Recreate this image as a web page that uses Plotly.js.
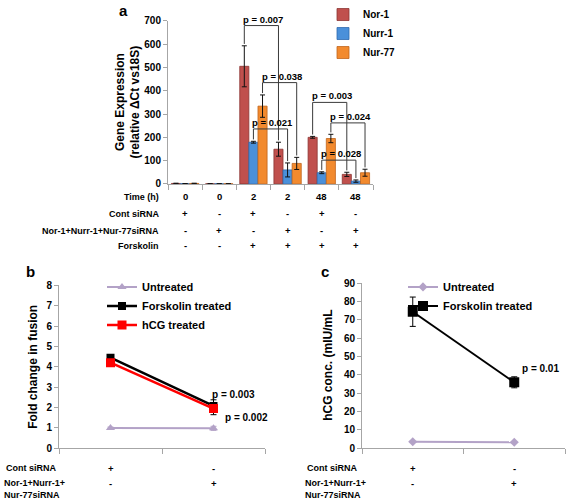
<!DOCTYPE html>
<html>
<head>
<meta charset="utf-8">
<script src="https://cdn.plot.ly/plotly-3.0.1.min.js"></script>
<style>html,body{margin:0;padding:0;background:#fff;}#chart{width:567px;height:501px;}</style>
</head>
<body>
<div id="chart"></div>
<script>
// ---------- Panel a data ----------
const conditions = ['0 h cont', '0 h siRNA', '2 h cont', '2 h siRNA', '48 h cont', '48 h siRNA'];
const timeLabels = ['0', '0', '2', '2', '48', '48'];
const contSiRNA = ['+', '-', '+', '-', '+', '-'];
const nurSiRNA = ['-', '+', '-', '+', '-', '+'];
const forskolinRow = ['-', '-', '+', '+', '+', '+'];
const rowLabelsA = ['Time (h)', 'Cont siRNA', 'Nor-1+Nurr-1+Nur-77siRNA', 'Forskolin'];

const seriesNames = ['Nor-1', 'Nurr-1', 'Nur-77'];
const nor1 = [2, 0.5, 505, 149, 200, 41];
const nor1Err = [1, 0.3, 88, 30, 4, 9];
const nurr1 = [1, 0.5, 179, 60, 48, 12];
const nurr1Err = [0.5, 0.3, 4, 30, 4, 5];
const nur77 = [2, 0.5, 334, 88, 195, 48];
const nur77Err = [1, 0.3, 48, 26, 18, 15];

// significance comparisons: [series index, group A, group B]
const pLabels = ['p = 0.007', 'p = 0.038', 'p = 0.021', 'p = 0.003', 'p = 0.024', 'p = 0.028'];
const pPairs = [[0, 2, 3], [2, 2, 3], [1, 2, 3], [0, 4, 5], [2, 4, 5], [1, 4, 5]];

// ---------- Panel b data ----------
const treatConds = ['Cont siRNA', 'Nor-1+Nurr-1+Nur-77siRNA'];
const contRow = ['+', '-'];
const knockRow = ['-', '+'];
const fusionUntreated = [1.0, 0.98];
const fusionUntreatedErr = [0.04, 0.1];
const fusionForskolin = [4.45, 2.08];
const fusionForskolinErr = [0.05, 0.3];
const fusionHCG = [4.2, 1.95];
const fusionHCGErr = [0.05, 0.3];
const fusionP = ['p = 0.003', 'p = 0.002'];

// ---------- Panel c data ----------
const hcgUntreated = [3.6, 3.3];
const hcgForskolin = [74.5, 36];
const hcgForskolinErr = [8, 3];
const hcgP = 'p = 0.01';

// axis titles
const yTitleA = 'Gene Expression<br>(relative ΔCt vs18S)';
const yTitleB = 'Fold change in fusion';
const yTitleC = 'hCG conc. (mIU/mL';

// ---------- styling / layout helpers ----------
const W = 567, H = 501;
const FONT = 'Arial, "Liberation Sans", sans-serif';
const fx = p => p / W;
const fy = p => 1 - p / H;
const barColors = ['#C0504D', '#4A90DA', '#F28A2E'];
const barLines = ['#8C3532', '#2F6AAE', '#C0651C'];
const bargap = 0.2;
const bracketTops = [680, 435, 236, 350, 262, 102];
const legPad = 8;

const seriesVals = [nor1, nurr1, nur77];
const seriesErrs = [nor1Err, nurr1Err, nur77Err];

const traces = [];
seriesNames.forEach((n, i) => {
  traces.push({
    type: 'bar', name: n, x: conditions, y: seriesVals[i],
    marker: {color: barColors[i], line: {color: barLines[i], width: 0.8}},
    error_y: {type: 'data', array: seriesErrs[i], color: '#111', thickness: 1, width: 2.5},
    xaxis: 'x', yaxis: 'y', legend: 'legend'
  });
});

// panel b
traces.push({
  type: 'scatter', mode: 'lines+markers', name: 'Untreated', x: treatConds, y: fusionUntreated,
  line: {color: '#B3A2C7', width: 2}, marker: {symbol: 'triangle-up', size: 8, color: '#B3A2C7'},
  error_y: {type: 'data', array: fusionUntreatedErr, color: '#B3A2C7', thickness: 1, width: 3},
  xaxis: 'x2', yaxis: 'y2', legend: 'legend2'
});
traces.push({
  type: 'scatter', mode: 'lines+markers', name: 'Forskolin treated', x: treatConds, y: fusionForskolin,
  line: {color: '#000', width: 2.5}, marker: {symbol: 'square', size: 8, color: '#000'},
  error_y: {type: 'data', array: fusionForskolinErr, color: '#000', thickness: 1, width: 3},
  xaxis: 'x2', yaxis: 'y2', legend: 'legend2'
});
traces.push({
  type: 'scatter', mode: 'lines+markers', name: 'hCG treated', x: treatConds, y: fusionHCG,
  line: {color: '#FF0000', width: 2.5}, marker: {symbol: 'square', size: 9, color: '#FF0000'},
  error_y: {type: 'data', array: fusionHCGErr, color: '#000', thickness: 1, width: 3},
  xaxis: 'x2', yaxis: 'y2', legend: 'legend2'
});

// panel c
traces.push({
  type: 'scatter', mode: 'lines+markers', name: 'Untreated', x: treatConds, y: hcgUntreated,
  line: {color: '#B3A2C7', width: 2}, marker: {symbol: 'diamond', size: 7, color: '#B3A2C7'},
  xaxis: 'x3', yaxis: 'y3', legend: 'legend3'
});
traces.push({
  type: 'scatter', mode: 'lines+markers', name: 'Forskolin treated', x: treatConds, y: hcgForskolin,
  line: {color: '#000', width: 2}, marker: {symbol: 'square', size: 10, color: '#000'},
  error_y: {type: 'data', array: hcgForskolinErr, color: '#000', thickness: 1, width: 3},
  xaxis: 'x3', yaxis: 'y3', legend: 'legend3'
});

// brackets (panel a)
const barW = (1 - bargap) / seriesNames.length;
const shapes = [];
const annotations = [];
pPairs.forEach((pp, k) => {
  const [s, a, b] = pp;
  const xa = a + (s - 1) * barW, xb = b + (s - 1) * barW;
  const ya = seriesVals[s][a] + seriesErrs[s][a] + legPad;
  const yb = seriesVals[s][b] + seriesErrs[s][b] + legPad;
  const top = bracketTops[k];
  const ln = {type: 'line', xref: 'x', yref: 'y', line: {color: '#3a3a3a', width: 1}};
  shapes.push(Object.assign({x0: xa, x1: xa, y0: ya, y1: top}, ln));
  shapes.push(Object.assign({x0: xa, x1: xb, y0: top, y1: top}, ln));
  shapes.push(Object.assign({x0: xb, x1: xb, y0: top, y1: yb}, ln));
  annotations.push({xref: 'x', yref: 'y', x: xa, y: top, text: '<b>' + pLabels[k] + '</b>',
    showarrow: false, xanchor: 'left', yanchor: 'bottom', xshift: -3, yshift: -1,
    font: {family: FONT, size: 9.5, color: '#000'}});
});

const tf = {family: FONT, size: 9.5, color: '#000'};
function ann(o) { return Object.assign({showarrow: false, font: tf}, o); }

// table rows panel a
const rowsA = [timeLabels, contSiRNA, nurSiRNA, forskolinRow];
const rowY = [195, 212, 229, 244];
rowsA.forEach((row, r) => {
  annotations.push(ann({xref: 'paper', yref: 'paper', x: fx(161), y: fy(rowY[r]), xanchor: 'right', yanchor: 'middle', text: '<b>' + rowLabelsA[r] + '</b>', font: {family: FONT, size: 9, color: '#000'}}));
  row.forEach((v, i) => {
    annotations.push(ann({xref: 'x', yref: 'paper', x: i, y: fy(rowY[r]), xanchor: 'center', yanchor: 'middle', text: '<b>' + v + '</b>'}));
  });
});

// table rows panels b and c
[['x2', 4], ['x3', 305]].forEach(([xr, left]) => {
  annotations.push(ann({xref: 'paper', yref: 'paper', x: fx(left), y: fy(468), xanchor: 'left', yanchor: 'middle', text: '<b>Cont siRNA</b>', font: {family: FONT, size: 9, color: '#000'}}));
  annotations.push(ann({xref: 'paper', yref: 'paper', x: fx(left - 2), y: fy(489), xanchor: 'left', yanchor: 'middle', align: 'left', text: '<b>Nor-1+Nurr-1+<br>Nur-77siRNA</b>', font: {family: FONT, size: 9, color: '#000'}}));
  contRow.forEach((v, i) => annotations.push(ann({xref: xr, yref: 'paper', x: i, y: fy(468), xanchor: 'center', yanchor: 'middle', text: '<b>' + v + '</b>'})));
  knockRow.forEach((v, i) => annotations.push(ann({xref: xr, yref: 'paper', x: i, y: fy(483), xanchor: 'center', yanchor: 'middle', text: '<b>' + v + '</b>'})));
});

// p values b, c
const pFont = {family: FONT, size: 10, color: '#000'};
annotations.push(ann({xref: 'x2', yref: 'y2', x: 1, y: fusionForskolin[1] + fusionForskolinErr[1], xanchor: 'left', yanchor: 'bottom', xshift: -4, yshift: -2, text: '<b>' + fusionP[0] + '</b>', font: pFont}));
annotations.push(ann({xref: 'x2', yref: 'y2', x: 1, y: fusionHCG[1] - fusionHCGErr[1], xanchor: 'left', yanchor: 'middle', xshift: 9, yshift: -3, text: '<b>' + fusionP[1] + '</b>', font: pFont}));
annotations.push(ann({xref: 'x3', yref: 'y3', x: 1, y: hcgForskolin[1] + hcgForskolinErr[1], xanchor: 'left', yanchor: 'bottom', xshift: 6, yshift: 1, text: '<b>' + hcgP + '</b>', font: pFont}));

// y-axis titles (rotated)
const titleFont = {family: FONT, size: 12, color: '#000'};
annotations.push(ann({xref: 'paper', yref: 'paper', x: fx(128), y: fy(100), xanchor: 'center', yanchor: 'middle', textangle: -90, text: '<b>' + yTitleA.replace('<br>', '</b><br><b>') + '</b>', font: titleFont}));
annotations.push(ann({xref: 'paper', yref: 'paper', x: fx(33), y: fy(366), xanchor: 'center', yanchor: 'middle', textangle: -90, text: '<b>' + yTitleB + '</b>', font: titleFont}));
annotations.push(ann({xref: 'paper', yref: 'paper', x: fx(328), y: fy(365), xanchor: 'center', yanchor: 'middle', textangle: -90, text: '<b>' + yTitleC + '</b>', font: titleFont}));

// panel letters
const letterFont = {family: FONT, size: 15, color: '#000'};
annotations.push(ann({xref: 'paper', yref: 'paper', x: fx(123), y: fy(8), xanchor: 'center', yanchor: 'middle', text: '<b>a</b>', font: letterFont}));
annotations.push(ann({xref: 'paper', yref: 'paper', x: fx(30), y: fy(270), xanchor: 'center', yanchor: 'middle', text: '<b>b</b>', font: letterFont}));
annotations.push(ann({xref: 'paper', yref: 'paper', x: fx(325), y: fy(270), xanchor: 'center', yanchor: 'middle', text: '<b>c</b>', font: letterFont}));

const axCol = '#A6A6A6';
const tickFont = {family: FONT, size: 10, color: '#000', weight: 'bold'};
function xAx(dom, anchor) {
  return {domain: dom, anchor: anchor, type: 'category', range: [-0.5, 1.5], showticklabels: false,
    ticks: 'outside', tickson: 'boundaries', ticklen: 5, tickcolor: axCol, showline: true, linecolor: axCol,
    linewidth: 1, showgrid: false, zeroline: false, fixedrange: true};
}
function yAx(dom, anchor, range, dtick) {
  return {domain: dom, anchor: anchor, range: range, dtick: dtick, ticks: 'outside', ticklen: 4, tickcolor: axCol,
    showline: true, linecolor: axCol, linewidth: 1, showgrid: false, zeroline: false, tickfont: tickFont};
}

const legFont = {family: FONT, size: 11, color: '#000', weight: 'bold'};
const layout = {
  width: W, height: H, margin: {l: 0, r: 0, t: 0, b: 0},
  paper_bgcolor: '#fff', plot_bgcolor: 'rgba(0,0,0,0)',
  font: {family: FONT, color: '#000'},
  barmode: 'group', bargap: bargap, bargroupgap: 0,
  showlegend: true,
  xaxis: Object.assign(xAx([fx(168), fx(373)], 'y'), {range: [-0.5, 5.5]}),
  yaxis: yAx([fy(182), fy(18)], 'x', [0, 700], 100),
  xaxis2: xAx([fx(59), fx(265)], 'y2'),
  yaxis2: yAx([fy(448), fy(284)], 'x2', [0, 8], 1),
  xaxis3: xAx([fx(362), fx(565)], 'y3'),
  yaxis3: yAx([fy(448), fy(282)], 'x3', [0, 90], 10),
  legend: {x: fx(323), y: fy(-3), xanchor: 'left', yanchor: 'top', bgcolor: 'rgba(0,0,0,0)',
    font: {family: FONT, size: 10, color: '#000', weight: 'bold'}, itemwidth: 30},
  legend2: {x: fx(102), y: fy(271), xanchor: 'left', yanchor: 'top', bgcolor: 'rgba(0,0,0,0)',
    font: legFont, itemwidth: 30},
  legend3: {x: fx(403), y: fy(271), xanchor: 'left', yanchor: 'top', bgcolor: 'rgba(0,0,0,0)',
    font: legFont, itemwidth: 30},
  shapes: shapes,
  annotations: annotations
};

Plotly.newPlot('chart', traces, layout, {displayModeBar: false, staticPlot: true});
</script>
</body>
</html>
